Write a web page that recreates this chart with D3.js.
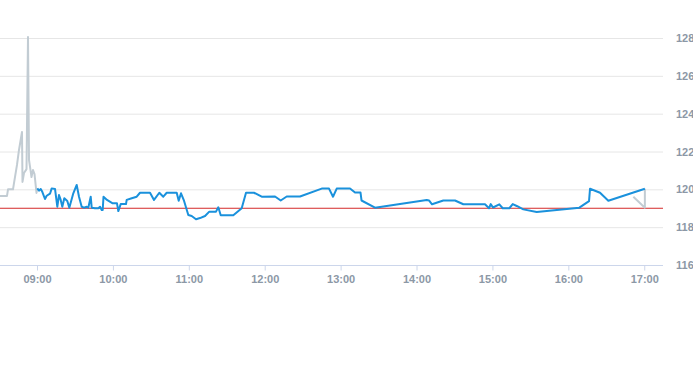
<!DOCTYPE html>
<html>
<head>
<meta charset="utf-8">
<script src="https://cdn.jsdelivr.net/npm/d3@7"></script>
<style>
  html, body { margin: 0; padding: 0; background: #fff; }
  svg { display: block; font-family: "Liberation Sans", Arial, sans-serif; }
</style>
</head>
<body>
<svg id="chart" width="693" height="365"></svg>
<script>
// pre-market ticks (grey)
const preTimes = ['08:30:45','08:36:17','08:37:05','08:41:02','08:41:49','08:44:11','08:45:46','08:48:08','08:48:32','08:49:43','08:51:42','08:52:53','08:53:41','08:54:52','08:55:39','08:56:50','08:58:01','08:59:36','09:00:14'];
const preValues = [119.65,119.65,120.0,120.0,120.33,121.29,122.08,123.03,120.39,120.86,121.07,128.05,121.55,121.02,120.65,121.02,120.81,119.81,120.05];

// regular session (blue)
const sessionTimes = ['09:00:14','09:01:35','09:02:55','09:04:11','09:06:19','09:07:40','09:10:17','09:11:37','09:14:14','09:16:03',
  '09:17:23','09:18:44','09:20:00','09:21:35','09:23:57','09:25:32','09:28:42','09:31:23','09:33:12','09:35:20',
  '09:37:09','09:39:17','09:40:33','09:42:27','09:43:14','09:45:51','09:48:27','09:49:48','09:51:09','09:51:56',
  '09:52:34','09:55:20','09:59:50','10:03:14','10:04:16','10:06:10','10:10:21','10:10:54','10:14:52','10:18:49',
  '10:21:25','10:29:20','10:32:29','10:36:41','10:39:50','10:42:32','10:50:26','10:52:01','10:53:50','10:56:12',
  '10:59:36','11:02:17','11:05:41','11:08:51','11:12:49','11:16:12','11:21:30','11:23:19','11:25:13','11:35:11',
  '11:41:49','11:45:13','11:51:32','11:57:38','12:08:08','12:12:39','12:17:23','12:27:54','12:45:04','12:50:50',
  '12:53:59','12:56:55','13:07:26','13:11:23','13:15:44','13:16:31','13:27:11','14:08:04','14:09:53','14:12:15',
  '14:21:11','14:30:26','14:36:59','14:54:08','14:57:18','14:58:39','15:00:28','15:05:27','15:08:08','15:13:22',
  '15:16:03','15:19:13','15:24:26','15:35:01','16:08:42','16:16:22','16:17:09','16:25:04','16:31:37','17:00:30'];
const sessionValues = [120.05,119.93,120.02,119.87,119.49,119.66,119.77,120.05,120.02,119.08,
  119.70,119.44,119.08,119.53,119.38,119.03,119.79,120.23,119.61,119.08,
  119.03,119.08,119.03,119.61,119.03,119.0,119.0,119.08,118.91,118.91,
  119.61,119.44,119.26,119.26,118.85,119.22,119.22,119.44,119.53,119.61,
  119.82,119.82,119.44,119.82,119.61,119.82,119.82,119.40,119.79,119.40,
  118.64,118.59,118.42,118.48,118.59,118.82,118.82,119.05,118.63,118.63,
  119.0,119.82,119.82,119.61,119.62,119.41,119.62,119.62,120.04,120.04,
  119.61,120.04,120.04,119.83,119.83,119.41,119.03,119.44,119.41,119.21,
  119.41,119.41,119.21,119.21,119.0,119.22,119.04,119.21,119.0,119.0,
  119.22,119.12,118.94,118.80,119.03,119.38,120.03,119.82,119.40,120.03];

// closing auction ticks (grey)
const postTimes = ['16:51:23','17:00:30','17:00:30'];
const postValues = [119.61,119.03,120.03];

const refValue = 119;
const yTicks = [116, 118, 120, 122, 124, 126, 128];

const width = 693, height = 365;
const plot = { left: 0, right: 663, top: 38, bottom: 265 };

const parse = d3.timeParse('%H:%M:%S');
const toPoints = (times, values) => times.map((t, i) => ({ t: parse(t), v: values[i] }));

const pre = toPoints(preTimes, preValues);
const session = toPoints(sessionTimes, sessionValues);
const post = toPoints(postTimes, postValues);

const svg = d3.select('#chart');

const x = d3.scaleTime()
  .domain([parse('08:30:45'), parse('17:14:50')])
  .range([plot.left, plot.right]);

const y = d3.scaleLinear()
  .domain([116, 128])
  .range([plot.bottom, plot.top]);

// gridlines
svg.append('g')
  .selectAll('line')
  .data(yTicks.filter(d => d !== 116))
  .enter()
  .append('line')
  .attr('x1', plot.left)
  .attr('x2', plot.right)
  .attr('y1', d => y(d) + 0.5)
  .attr('y2', d => y(d) + 0.5)
  .attr('stroke', '#e6e6e6')
  .attr('stroke-width', 1);

// x axis
const xAxis = d3.axisBottom(x)
  .ticks(d3.timeHour.every(1))
  .tickFormat(d3.timeFormat('%H:%M'))
  .tickSize(5)
  .tickPadding(5);

const gx = svg.append('g')
  .attr('transform', `translate(0, ${plot.bottom + 0.5})`)
  .call(xAxis);

gx.select('.domain')
  .attr('d', `M${plot.left},0H${plot.right}`)
  .attr('stroke', '#ccd6eb');
gx.selectAll('.tick line').attr('stroke', '#ccd6eb');
gx.selectAll('.tick text')
  .attr('fill', '#8c98a6')
  .attr('font-size', 11)
  .attr('font-weight', 'bold');

// y axis labels (right)
svg.append('g')
  .selectAll('text')
  .data(yTicks)
  .enter()
  .append('text')
  .attr('x', 676)
  .attr('y', d => y(d) + 4)
  .attr('fill', '#8c98a6')
  .attr('font-size', 11)
  .attr('font-weight', 'bold')
  .text(d => d);

// reference line
svg.append('line')
  .attr('x1', plot.left)
  .attr('x2', plot.right)
  .attr('y1', y(refValue))
  .attr('y2', y(refValue))
  .attr('stroke', '#d42a2a')
  .attr('stroke-width', 1);

const line = d3.line()
  .x(d => x(d.t))
  .y(d => y(d.v));

// grey segments
[pre, post].forEach(data => {
  svg.append('path')
    .datum(data)
    .attr('fill', 'none')
    .attr('stroke', '#c2ccd3')
    .attr('stroke-width', 2)
    .attr('stroke-linejoin', 'round')
    .attr('d', line);
});

// session line
svg.append('path')
  .datum(session)
  .attr('fill', 'none')
  .attr('stroke', '#1a91dc')
  .attr('stroke-width', 2)
  .attr('stroke-linejoin', 'round')
  .attr('d', line);
</script>
</body>
</html>
